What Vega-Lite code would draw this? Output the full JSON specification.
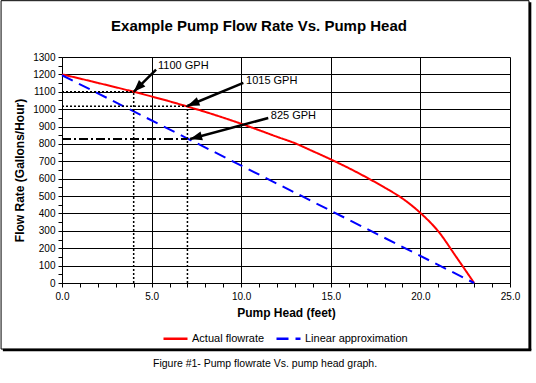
{
  "$schema": "https://vega.github.io/schema/vega-lite/v6.json",
  "width": 448,
  "height": 226,
  "autosize": {"type": "none"},
  "padding": {"left": 62, "top": 57, "right": 26, "bottom": 100},
  "background": "white",
  "config": {
    "font": "Liberation Sans",
    "view": {"stroke": null},
    "axis": {
      "domainColor": "black",
      "tickColor": "black",
      "gridColor": "black",
      "gridWidth": 1,
      "labelColor": "black",
      "titleColor": "black",
      "labelFont": "Liberation Sans",
      "titleFont": "Liberation Sans",
      "labelFontSize": 10,
      "titleFontSize": 12,
      "titleFontWeight": "bold",
      "labelFlush": false,
      "labelOverlap": false
    }
  },
  "title": {
    "text": "Example Pump Flow Rate Vs. Pump Head",
    "fontSize": 15,
    "fontWeight": "bold",
    "font": "Liberation Sans",
    "color": "black",
    "anchor": "middle",
    "dx": -27,
    "offset": -34
  },
  "datasets": {
    "curves": [
      {"head": 0, "flow": 1200, "series": "Actual flowrate"},
      {"head": 1, "flow": 1176, "series": "Actual flowrate"},
      {"head": 2, "flow": 1151, "series": "Actual flowrate"},
      {"head": 3, "flow": 1126, "series": "Actual flowrate"},
      {"head": 4, "flow": 1100, "series": "Actual flowrate"},
      {"head": 5, "flow": 1073, "series": "Actual flowrate"},
      {"head": 6, "flow": 1045, "series": "Actual flowrate"},
      {"head": 7, "flow": 1015, "series": "Actual flowrate"},
      {"head": 8, "flow": 984, "series": "Actual flowrate"},
      {"head": 9, "flow": 951, "series": "Actual flowrate"},
      {"head": 10, "flow": 916, "series": "Actual flowrate"},
      {"head": 11, "flow": 879, "series": "Actual flowrate"},
      {"head": 12, "flow": 841, "series": "Actual flowrate"},
      {"head": 13, "flow": 804, "series": "Actual flowrate"},
      {"head": 14, "flow": 758, "series": "Actual flowrate"},
      {"head": 15, "flow": 711, "series": "Actual flowrate"},
      {"head": 16, "flow": 661, "series": "Actual flowrate"},
      {"head": 17, "flow": 607, "series": "Actual flowrate"},
      {"head": 18, "flow": 549, "series": "Actual flowrate"},
      {"head": 19, "flow": 486, "series": "Actual flowrate"},
      {"head": 20, "flow": 403, "series": "Actual flowrate"},
      {"head": 21, "flow": 297, "series": "Actual flowrate"},
      {"head": 22, "flow": 150, "series": "Actual flowrate"},
      {"head": 23, "flow": 0, "series": "Actual flowrate"},
      {"head": 0, "flow": 1195, "series": "Linear approximation"},
      {"head": 23, "flow": 0, "series": "Linear approximation"}
    ],
    "guides": [
      {"head": 4, "flow": 0, "head2": 4, "flow2": 1100, "kind": "dotted"},
      {"head": 0, "flow": 1100, "head2": 4, "flow2": 1100, "kind": "dotted"},
      {"head": 7, "flow": 0, "head2": 7, "flow2": 1017, "kind": "dotted"},
      {"head": 0, "flow": 1017, "head2": 7, "flow2": 1017, "kind": "dotted"},
      {"head": 0, "flow": 828, "head2": 7, "flow2": 828, "kind": "dashdot"}
    ],
    "shafts": [
      {"label": "1100 GPH", "head": 5.25, "flow": 1227, "head2": 4.0, "flow2": 1100},
      {"label": "1015 GPH", "head": 10.12, "flow": 1151, "head2": 7.0, "flow2": 1018},
      {"label": "825 GPH", "head": 11.51, "flow": 949, "head2": 7.15, "flow2": 828}
    ],
    "tips": [
      {"label": "1100 GPH", "head": 4.0, "flow": 1100},
      {"label": "1015 GPH", "head": 7.0, "flow": 1018},
      {"label": "825 GPH", "head": 7.15, "flow": 828}
    ],
    "labels": [
      {"label": "1100 GPH", "head": 5.36, "flow": 1246},
      {"label": "1015 GPH", "head": 10.27, "flow": 1160},
      {"label": "825 GPH", "head": 11.65, "flow": 958}
    ],
    "frame": [
      {"head": -3.4, "flow": 1624, "head2": 26.06, "flow2": -380}
    ],
    "shadow": [
      {"head": 26.12, "flow": 1615, "head2": 26.12, "flow2": -386},
      {"head": -3.3, "flow": -386, "head2": 26.19, "flow2": -386}
    ],
    "caption": [
      {"head": 11.33, "flow": -467, "text": "Figure #1- Pump flowrate Vs. pump head graph."}
    ]
  },
  "encoding": {
    "x": {
      "field": "head",
      "type": "quantitative",
      "scale": {"domain": [0, 25], "nice": false, "zero": false},
      "axis": {
        "title": "Pump Head (feet)",
        "values": [0,1,2,3,4,5,6,7,8,9,10,11,12,13,14,15,16,17,18,19,20,21,22,23,24,25],
        "labelExpr": "datum.value % 5 === 0 ? format(datum.value, '.1f') : ''",
        "labelOverlap": false,
        "grid": true,
        "gridOpacity": {"condition": {"test": "datum.value % 5 === 0", "value": 1}, "value": 0},
        "tickSize": 4,
        "labelPadding": 4,
        "titlePadding": 6
      }
    },
    "y": {
      "field": "flow",
      "type": "quantitative",
      "scale": {"domain": [0, 1300], "nice": false, "zero": false},
      "axis": {
        "title": "Flow Rate (Gallons/Hour)",
        "values": [0,50,100,150,200,250,300,350,400,450,500,550,600,650,700,750,800,850,900,950,1000,1050,1100,1150,1200,1250,1300],
        "labelExpr": "datum.value % 100 === 0 ? format(datum.value, 'd') : ''",
        "labelOverlap": false,
        "grid": true,
        "gridOpacity": {"condition": {"test": "datum.value % 100 === 0", "value": 1}, "value": 0},
        "tickSize": 4,
        "labelPadding": 3,
        "titlePadding": 6
      }
    }
  },
  "layer": [
    {
      "data": {"name": "curves"},
      "mark": {"type": "line", "strokeWidth": 2, "interpolate": "monotone"},
      "encoding": {
        "color": {
          "field": "series",
          "type": "nominal",
          "scale": {"domain": ["Actual flowrate", "Linear approximation"], "range": ["#FF0000", "#0000FF"]},
          "legend": {
            "title": null,
            "orient": "none",
            "legendX": 100,
            "legendY": 268,
            "direction": "horizontal",
            "symbolType": "stroke",
            "symbolSize": 576,
            "symbolStrokeWidth": 2.5,
            "labelFontSize": 11,
            "labelColor": "black",
            "labelOffset": 3,
            "columnPadding": 6
          }
        },
        "strokeDash": {
          "field": "series",
          "type": "nominal",
          "scale": {"domain": ["Actual flowrate", "Linear approximation"], "range": [[1, 0], [12, 7]]},
          "legend": null
        }
      }
    },
    {
      "data": {"name": "guides"},
      "transform": [{"filter": "datum.kind === 'dotted'"}],
      "mark": {"type": "rule", "color": "black", "strokeWidth": 1.5, "strokeDash": [2, 2]},
      "encoding": {"x2": {"field": "head2"}, "y2": {"field": "flow2"}}
    },
    {
      "data": {"name": "guides"},
      "transform": [{"filter": "datum.kind === 'dashdot'"}],
      "mark": {"type": "rule", "color": "black", "strokeWidth": 2, "strokeDash": [9, 3, 2, 3]},
      "encoding": {"x2": {"field": "head2"}, "y2": {"field": "flow2"}}
    },
    {
      "data": {"name": "shafts"},
      "mark": {"type": "rule", "color": "black", "strokeWidth": 2.5, "strokeCap": "butt"},
      "encoding": {"x2": {"field": "head2"}, "y2": {"field": "flow2"}}
    },
    {
      "data": {"name": "tips"},
      "transform": [{"filter": "datum.label === '1100 GPH'"}],
      "mark": {"type": "point", "shape": "M0,0L-2,-0.75L-2,0.75Z", "angle": 135, "filled": true, "color": "black", "size": 144, "opacity": 1},
      "encoding": {}
    },
    {
      "data": {"name": "tips"},
      "transform": [{"filter": "datum.label === '1015 GPH'"}],
      "mark": {"type": "point", "shape": "M0,0L-2,-0.75L-2,0.75Z", "angle": 157.5, "filled": true, "color": "black", "size": 144, "opacity": 1},
      "encoding": {}
    },
    {
      "data": {"name": "tips"},
      "transform": [{"filter": "datum.label === '825 GPH'"}],
      "mark": {"type": "point", "shape": "M0,0L-2,-0.75L-2,0.75Z", "angle": 165, "filled": true, "color": "black", "size": 144, "opacity": 1},
      "encoding": {}
    },
    {
      "data": {"name": "labels"},
      "mark": {"type": "text", "align": "left", "baseline": "middle", "fontSize": 11, "color": "black", "font": "Liberation Sans"},
      "encoding": {"text": {"field": "label"}}
    },
    {
      "data": {"name": "frame"},
      "mark": {"type": "rect", "color": "black", "fillOpacity": 0, "stroke": "black", "strokeWidth": 1},
      "encoding": {"x2": {"field": "head2"}, "y2": {"field": "flow2"}}
    },
    {
      "data": {"name": "shadow"},
      "mark": {"type": "rule", "color": "black", "strokeWidth": 2.5},
      "encoding": {"x2": {"field": "head2"}, "y2": {"field": "flow2"}}
    },
    {
      "data": {"name": "caption"},
      "mark": {"type": "text", "fontSize": 10.5, "align": "center", "baseline": "middle", "color": "black", "font": "Liberation Sans"},
      "encoding": {"text": {"field": "text"}}
    }
  ]
}
